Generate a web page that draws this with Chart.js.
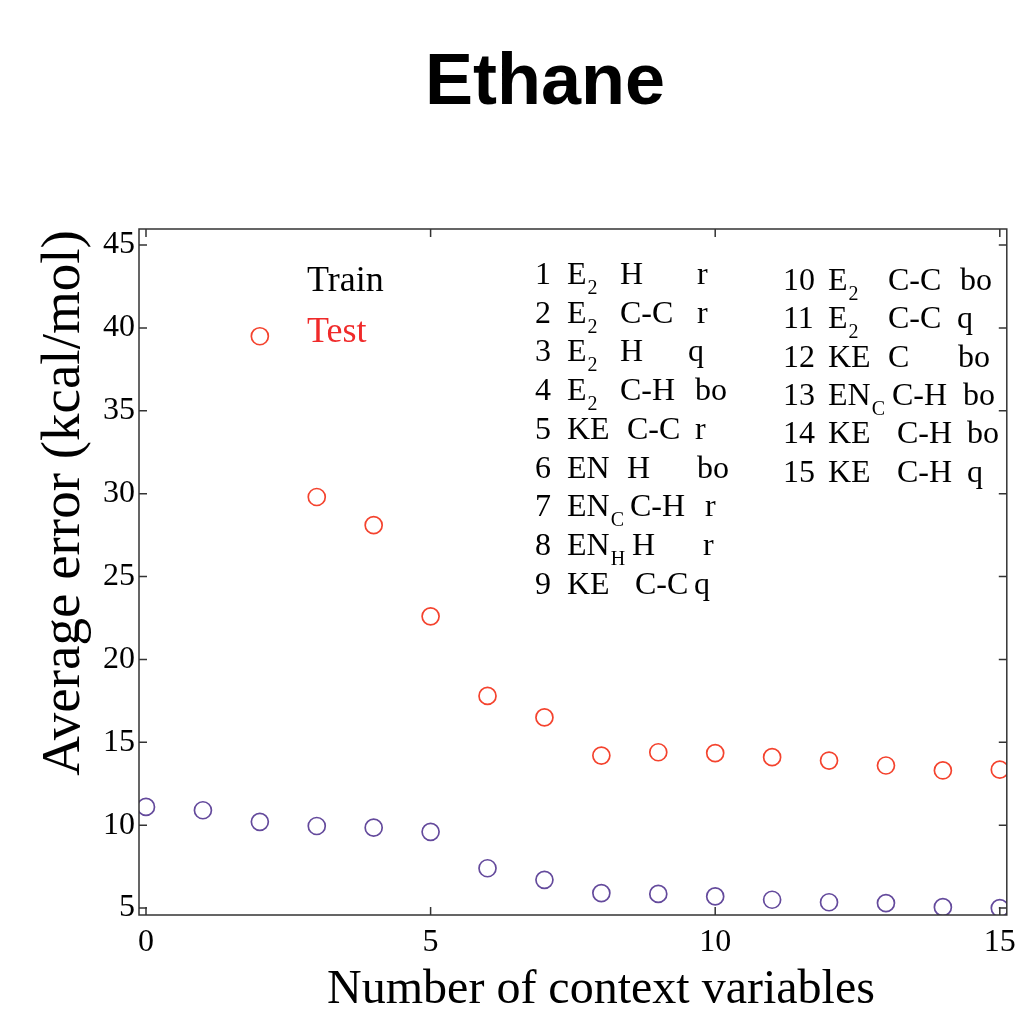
<!DOCTYPE html>
<html>
<head>
<meta charset="utf-8">
<title>Ethane</title>
<script src="https://cdn.jsdelivr.net/npm/chart.js@4/dist/chart.umd.min.js"></script>
<style>
  html, body { margin: 0; padding: 0; background: #fff; }
</style>
</head>
<body>
<canvas id="chart" width="1017" height="1009"></canvas>
<script>
// data
const contextVariables = [0, 1, 2, 3, 4, 5, 6, 7, 8, 9, 10, 11, 12, 13, 14, 15];
const trainError = [11.1, 10.9, 10.2, 9.95, 9.85, 9.6, 7.4, 6.7, 5.9, 5.85, 5.7, 5.5, 5.35, 5.3, 5.05, 5.0];
const testError = [null, null, 39.5, 29.8, 28.1, 22.6, 17.8, 16.5, 14.2, 14.4, 14.35, 14.1, 13.9, 13.6, 13.3, 13.35];
const xTickValues = [0, 5, 10, 15];
const yTickValues = [5, 10, 15, 20, 25, 30, 35, 40, 45];

// the numbered list of context variables
const descriptorIndex = [1, 2, 3, 4, 5, 6, 7, 8, 9, 10, 11, 12, 13, 14, 15];
const descriptorTerm = ['E', 'E', 'E', 'E', 'KE', 'EN', 'EN', 'EN', 'KE', 'E', 'E', 'KE', 'EN', 'KE', 'KE'];
const descriptorTermSub = ['2', '2', '2', '2', '', '', 'C', 'H', '', '2', '2', '', 'C', '', ''];
const descriptorAtoms = ['H', 'C-C', 'H', 'C-H', 'C-C', 'H', 'C-H', 'H', 'C-C', 'C-C', 'C-C', 'C', 'C-H', 'C-H', 'C-H'];
const descriptorProperty = ['r', 'r', 'q', 'bo', 'r', 'bo', 'r', 'r', 'q', 'bo', 'q', 'bo', 'bo', 'bo', 'q'];

const SERIF = '"Liberation Serif", "Times New Roman", serif';
const SANS = '"Liberation Sans", Arial, sans-serif';

function points(values) {
    return contextVariables
        .map((x, i) => ({ x: x, y: values[i] }))
        .filter(p => p.y !== null);
}

// matlab style box with inward ticks, titles and the text block
const decorations = {
    id: 'decorations',
    afterDraw(chart) {
        const ctx = chart.ctx;
        const area = chart.chartArea;
        const xs = chart.scales.x;
        const ys = chart.scales.y;
        const tick = 8;

        ctx.save();
        ctx.strokeStyle = '#333';
        ctx.lineWidth = 1.5;
        ctx.strokeRect(area.left, area.top, area.right - area.left, area.bottom - area.top);

        ctx.beginPath();
        xTickValues.forEach(v => {
            const px = xs.getPixelForValue(v);
            ctx.moveTo(px, area.bottom); ctx.lineTo(px, area.bottom - tick);
            ctx.moveTo(px, area.top); ctx.lineTo(px, area.top + tick);
        });
        yTickValues.forEach(v => {
            const py = ys.getPixelForValue(v);
            ctx.moveTo(area.left, py); ctx.lineTo(area.left + tick, py);
            ctx.moveTo(area.right, py); ctx.lineTo(area.right - tick, py);
        });
        ctx.stroke();

        ctx.fillStyle = '#000';
        ctx.textAlign = 'center';
        ctx.textBaseline = 'alphabetic';
        ctx.font = `bold 72px ${SANS}`;
        ctx.fillText('Ethane', 545, 104);

        ctx.font = `48px ${SERIF}`;
        ctx.fillText('Number of context variables', 601, 1003);

        ctx.save();
        ctx.translate(79, 503);
        ctx.rotate(-Math.PI / 2);
        ctx.font = `55px ${SERIF}`;
        ctx.fillText('Average error (kcal/mol)', 0, 0);
        ctx.restore();

        ctx.textAlign = 'left';
        ctx.font = `36px ${SERIF}`;
        ctx.fillStyle = '#000';
        ctx.fillText('Train', 307, 291);
        ctx.fillStyle = '#f02a2a';
        ctx.fillText('Test', 307, 342);

        // list columns
        ctx.fillStyle = '#000';
        const atomsX = [620, 620, 620, 620, 627, 627, 630, 632, 635, 888, 888, 888, 892, 897, 897];
        const propX = [697, 697, 688, 695, 695, 697, 705, 703, 694, 960, 957, 958, 963, 967, 967];
        descriptorIndex.forEach((n, i) => {
            const second = i >= 9;
            const row = second ? i - 9 : i;
            const y = second ? 290 + row * 38.3 : 284 + row * 38.7;
            const numX = second ? 783 : 535;
            const termX = second ? 828 : 567;
            ctx.font = `32px ${SERIF}`;
            ctx.fillText(String(n), numX, y);
            ctx.fillText(descriptorTerm[i], termX, y);
            const w = ctx.measureText(descriptorTerm[i]).width;
            ctx.fillText(descriptorAtoms[i], atomsX[i], y);
            ctx.fillText(descriptorProperty[i], propX[i], y);
            if (descriptorTermSub[i]) {
                ctx.font = `20px ${SERIF}`;
                ctx.fillText(descriptorTermSub[i], termX + w + 1, y + 10);
            }
        });
        ctx.restore();
    }
};

new Chart(document.getElementById('chart'), {
    type: 'scatter',
    data: {
        datasets: [{
            label: 'Train',
            data: points(trainError),
            borderColor: '#644a9c',
            backgroundColor: 'rgba(0,0,0,0)',
            borderWidth: 1.7,
            pointRadius: 8.5,
            pointHoverRadius: 8.5
        }, {
            label: 'Test',
            data: points(testError),
            borderColor: '#f4432e',
            backgroundColor: 'rgba(0,0,0,0)',
            borderWidth: 1.7,
            pointRadius: 8.5,
            pointHoverRadius: 8.5
        }]
    },
    options: {
        responsive: false,
        animation: false,
        layout: { padding: { left: 39, right: 10, top: 229, bottom: 34 } },
        plugins: {
            legend: { display: false },
            tooltip: { enabled: false }
        },
        scales: {
            x: {
                type: 'linear',
                min: -0.123,
                max: 15.123,
                afterBuildTicks: scale => { scale.ticks = xTickValues.map(v => ({ value: v })); },
                afterFit: scale => { scale.height = 60; scale.paddingLeft = 0; scale.paddingRight = 0; },
                grid: { display: false, drawTicks: false },
                border: { display: false },
                ticks: {
                    padding: 8,
                    maxRotation: 0,
                    color: '#000',
                    font: { family: SERIF, size: 32 }
                }
            },
            y: {
                type: 'linear',
                min: 4.58,
                max: 45.97,
                afterBuildTicks: scale => { scale.ticks = yTickValues.map(v => ({ value: v })); },
                afterFit: scale => { scale.width = 100; scale.paddingTop = 0; scale.paddingBottom = 0; },
                grid: { display: false, drawTicks: false },
                border: { display: false },
                ticks: {
                    padding: 4,
                    color: '#000',
                    font: { family: SERIF, size: 32 }
                }
            }
        }
    },
    plugins: [decorations]
});
</script>
</body>
</html>
